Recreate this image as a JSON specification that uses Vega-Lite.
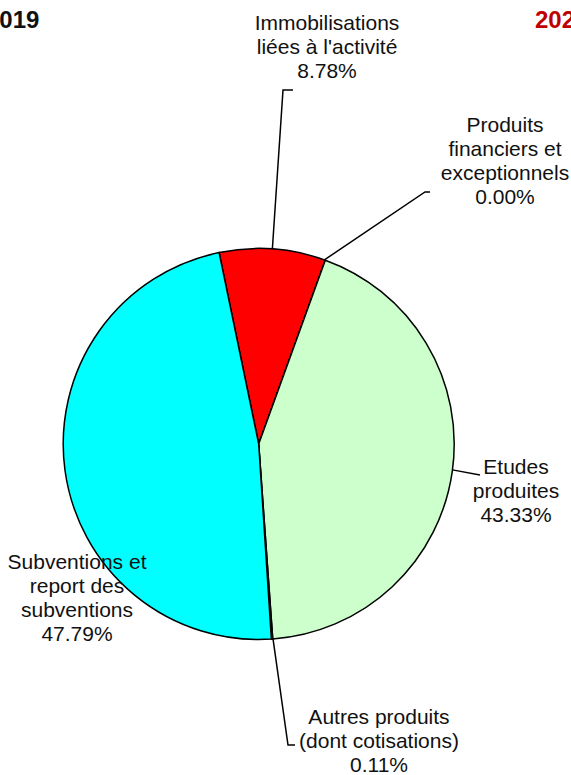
{
  "$schema": "https://vega.github.io/schema/vega-lite/v6.json",
  "width": 571,
  "height": 775,
  "padding": 0,
  "autosize": {"type": "none"},
  "background": "white",
  "config": {
    "view": {"stroke": null},
    "text": {"font": "Liberation Sans, Arial, sans-serif"}
  },
  "datasets": {
    "slices": [
      {"idx": 1, "key": "immo", "caption": "Immobilisations|liées à l'activité", "pct": 8.78},
      {"idx": 2, "key": "fin", "caption": "Produits|financiers et|exceptionnels", "pct": 0.0},
      {"idx": 3, "key": "etudes", "caption": "Etudes|produites", "pct": 43.33},
      {"idx": 4, "key": "autres", "caption": "Autres produits|(dont cotisations)", "pct": 0.11},
      {"idx": 5, "key": "subv", "caption": "Subventions et|report des|subventions", "pct": 47.79}
    ],
    "labelAnchors": [
      {"key": "immo", "u": 0.3494, "v": 2.1176},
      {"key": "fin", "u": 1.2598, "v": 1.5959},
      {"key": "etudes", "u": 1.3161, "v": -0.1535},
      {"key": "autres", "u": 0.6153, "v": -1.4322},
      {"key": "subv", "u": -0.9294, "v": -0.6394}
    ],
    "leaders": [
      {"key": "immo", "seq": 1, "u": 0.0698, "v": 0.9976},
      {"key": "immo", "seq": 2, "u": 0.1243, "v": 1.8107},
      {"key": "immo", "seq": 3, "u": 0.1754, "v": 1.8107},
      {"key": "fin", "seq": 1, "u": 0.3361, "v": 0.9418},
      {"key": "fin", "seq": 2, "u": 0.8507, "v": 1.289},
      {"key": "fin", "seq": 3, "u": 0.8763, "v": 1.289},
      {"key": "etudes", "seq": 1, "u": 0.9912, "v": -0.1323},
      {"key": "etudes", "seq": 2, "u": 1.132, "v": -0.1586},
      {"key": "autres", "seq": 1, "u": 0.0732, "v": -0.9973},
      {"key": "autres", "seq": 2, "u": 0.1499, "v": -1.5397},
      {"key": "autres", "seq": 3, "u": 0.1857, "v": -1.5397}
    ],
    "years": [
      {"year": "2019", "u": -1.3949, "v": 2.1279},
      {"year": "2020", "u": 1.4133, "v": 2.1279}
    ]
  },
  "layer": [
    {
      "data": {"name": "slices"},
      "mark": {"type": "arc", "outerRadius": 195.5, "stroke": "#000000", "strokeWidth": 1.5},
      "encoding": {
        "theta": {"field": "pct", "type": "quantitative", "stack": true, "scale": {"range": [-0.204, 6.079]}},
        "order": {"field": "idx", "type": "quantitative"},
        "color": {
          "field": "key",
          "type": "nominal",
          "legend": null,
          "scale": {
            "domain": ["immo", "fin", "etudes", "autres", "subv"],
            "range": ["#FF0000", "#FFFF99", "#CCFFCC", "#9999FF", "#00FFFF"]
          }
        },
        "x": {"datum": 0, "type": "quantitative", "axis": null, "scale": {"domain": [-1.3233, 1.5974], "nice": false, "zero": false}},
        "y": {"datum": 0, "type": "quantitative", "axis": null, "scale": {"domain": [-1.6931, 2.2711], "nice": false, "zero": false}}
      }
    },
    {
      "data": {"name": "leaders"},
      "mark": {"type": "line", "color": "#000000", "strokeWidth": 1.5},
      "encoding": {
        "x": {"field": "u", "type": "quantitative", "axis": null},
        "y": {"field": "v", "type": "quantitative", "axis": null},
        "detail": {"field": "key"},
        "order": {"field": "seq", "type": "quantitative"}
      }
    },
    {
      "data": {"name": "labelAnchors"},
      "transform": [
        {"lookup": "key", "from": {"data": {"name": "slices"}, "key": "key", "fields": ["caption", "pct"]}},
        {"calculate": "datum.caption + '|' + format(datum.pct, '.2f') + '%'", "as": "label"}
      ],
      "mark": {"type": "text", "fontSize": 21, "lineHeight": 24, "lineBreak": "|", "align": "center", "baseline": "alphabetic", "color": "#111111"},
      "encoding": {
        "x": {"field": "u", "type": "quantitative", "axis": null},
        "y": {"field": "v", "type": "quantitative", "axis": null},
        "text": {"field": "label"}
      }
    },
    {
      "data": {"name": "years"},
      "transform": [{"filter": "datum.year == '2019'"}],
      "mark": {"type": "text", "fontSize": 24, "fontWeight": "bold", "align": "left", "baseline": "alphabetic", "color": "#111111"},
      "encoding": {
        "x": {"field": "u", "type": "quantitative", "axis": null},
        "y": {"field": "v", "type": "quantitative", "axis": null},
        "text": {"field": "year"}
      }
    },
    {
      "data": {"name": "years"},
      "transform": [{"filter": "datum.year == '2020'"}],
      "mark": {"type": "text", "fontSize": 24, "fontWeight": "bold", "align": "left", "baseline": "alphabetic", "color": "#C00000"},
      "encoding": {
        "x": {"field": "u", "type": "quantitative", "axis": null},
        "y": {"field": "v", "type": "quantitative", "axis": null},
        "text": {"field": "year"}
      }
    }
  ]
}
